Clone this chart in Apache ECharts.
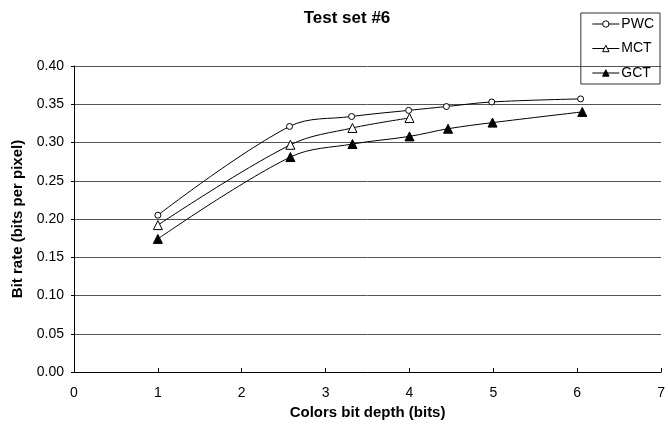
<!DOCTYPE html>
<html><head><meta charset="utf-8">
<script src="https://cdn.jsdelivr.net/npm/echarts@6/dist/echarts.min.js"></script>
<style>html,body{margin:0;padding:0;background:#fff}#c{width:668px;height:426px}</style>
</head><body><div id="c"></div>
<script>
const seriesNames = ['PWC', 'MCT', 'GCT'];
const pwcX = [1, 2.57, 3.31, 3.99, 4.44, 4.98, 6.04];
const pwcY = [0.205, 0.321, 0.334, 0.342, 0.347, 0.353, 0.357];
const mctX = [1, 2.58, 3.32, 4.0];
const mctY = [0.192, 0.297, 0.319, 0.332];
const gctX = [1, 2.58, 3.32, 4.0, 4.46, 4.99, 6.06];
const gctY = [0.174, 0.281, 0.298, 0.308, 0.318, 0.326, 0.340];

const pair = (xs, ys) => xs.map((x, i) => [x, ys[i]]);
const font = 'Liberation Sans, Arial, sans-serif';

const chart = echarts.init(document.getElementById('c'));
const base = {
  type: 'line', smooth: 0.35,
  lineStyle: { color: '#000', width: 1 },
  itemStyle: { color: '#fff', borderColor: '#000', borderWidth: 1 },
  emphasis: { disabled: true }
};
chart.setOption({
  animation: false,
  backgroundColor: '#fff',
  title: {
    text: 'Test set #6', left: 342, top: 5, textAlign: 'center',
    textStyle: { fontFamily: font, fontSize: 17, fontWeight: 'bold', color: '#000' }
  },
  legend: {
    orient: 'vertical', right: 8, top: 13,
    padding: [4, 6, 4, 11], itemGap: 10.5,
    itemWidth: 27, itemHeight: 8,
    borderColor: '#333', borderWidth: 1,
    lineStyle: { width: 1 },
    itemStyle: { borderWidth: 1 },
    textStyle: { fontFamily: font, fontSize: 14, color: '#000', padding: [0, 0, 0, -3] },
    data: seriesNames
  },
  grid: { left: 74, right: 2, top: 66, bottom: 54 },
  xAxis: {
    type: 'value', min: 0, max: 7, interval: 1,
    name: 'Colors bit depth (bits)', nameLocation: 'middle', nameGap: 32,
    nameTextStyle: { fontFamily: font, fontSize: 15, fontWeight: 'bold', color: '#000' },
    axisLine: { lineStyle: { color: '#000', width: 1 } },
    axisTick: { inside: true, length: 4, lineStyle: { color: '#000' } },
    axisLabel: { fontFamily: font, fontSize: 14, color: '#000', margin: 14 },
    splitLine: { show: false }
  },
  yAxis: {
    type: 'value', min: 0, max: 0.4, interval: 0.05,
    name: 'Bit rate (bits per pixel)', nameLocation: 'middle', nameGap: 47,
    nameTextStyle: { fontFamily: font, fontSize: 15, fontWeight: 'bold', color: '#000' },
    axisLine: { show: true, lineStyle: { color: '#000', width: 1 } },
    axisTick: { show: true, length: 3, lineStyle: { color: '#000' } },
    axisLabel: { fontFamily: font, fontSize: 14, color: '#000', margin: 10,
      formatter: v => v.toFixed(2) },
    splitLine: { show: true, lineStyle: { color: '#555', width: 1 } }
  },
  series: [
    Object.assign({}, base, { name: 'PWC', data: pair(pwcX, pwcY), symbol: 'circle', symbolSize: 6 }),
    Object.assign({}, base, { name: 'MCT', data: pair(mctX, mctY), symbol: 'triangle', symbolSize: 9 }),
    Object.assign({}, base, { name: 'GCT', data: pair(gctX, gctY), symbol: 'triangle', symbolSize: 9,
      itemStyle: { color: '#000', borderColor: '#000', borderWidth: 1 } })
  ]
});
</script></body></html>
